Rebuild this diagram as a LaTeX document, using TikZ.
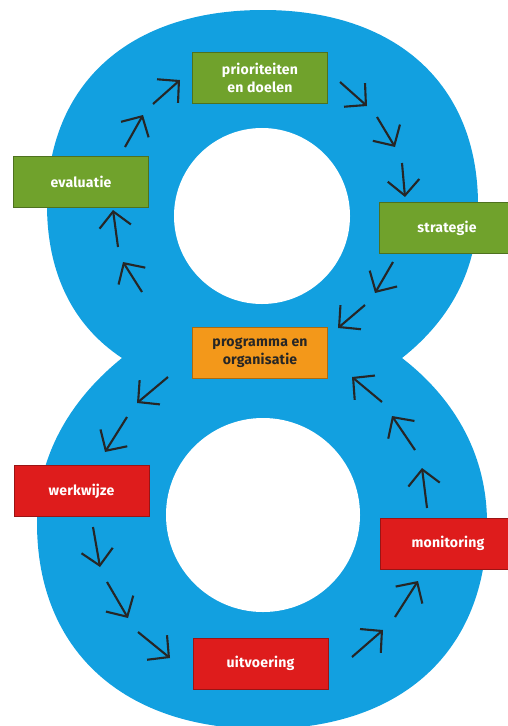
\documentclass[tikz,border=0pt]{standalone}
\usepackage{fontspec}
\setmainfont{Fira Sans}[LetterSpace=1.5]
\usetikzlibrary{arrows.meta}
\definecolor{achtblauw}{RGB}{18,160,224}
\definecolor{groen}{RGB}{112,162,44}
\definecolor{oranje}{RGB}{243,152,26}
\definecolor{rood}{RGB}{222,28,28}
\begin{document}
\begin{tikzpicture}[x=0.03cm,y=-0.03cm,
    vak/.style={draw=#1!70!black, fill=#1, line width=0.8pt, minimum width=4.05cm, minimum height=1.53cm,
      inner sep=0pt, align=center, text=white, font=\bfseries\fontsize{12}{15.5}\selectfont},
    pijl/.style={draw=black!85, line width=1.8pt, -{Straight Barb[length=13pt,width=27pt]}}]
    \useasboundingbox (0,0) rectangle (508,726);

    % de acht: bovenste en onderste ring
    \fill[achtblauw] (47,205) .. controls (47,84) and (129,10) .. (263,10)
      .. controls (396,10) and (478,84) .. (478,205)
      .. controls (478,270) and (450,320) .. (402,358)
      .. controls (370,383) and (320,400) .. (263,400)
      .. controls (206,400) and (156,383) .. (122,358)
      .. controls (72,325) and (47,272) .. (47,205) -- cycle;
    \fill[achtblauw] (122,358) .. controls (160,330) and (210,318) .. (263,318)
      .. controls (316,318) and (366,330) .. (402,358)
      .. controls (450,395) and (487,450) .. (487,523)
      .. controls (487,651) and (402,729) .. (263,729)
      .. controls (124,729) and (37,651) .. (37,523)
      .. controls (37,450) and (76,395) .. (122,358) -- cycle;
    \fill[white] (262,216) circle[radius=2.64cm];
    \fill[white] (263,515) circle[radius=2.91cm];

    \node[vak=groen] (prioriteiten) at (260,77.5) {prioriteiten\\en doelen};
    \node[vak=groen] (evaluatie) at (81,181.5) {evaluatie};
    \node[vak=groen] (strategie) at (447,228) {strategie};
    \node[vak=oranje, text=black!85] (programma) at (260,352.5) {programma en\\organisatie};
    \node[vak=rood] (werkwijze) at (81.5,491) {werkwijze};
    \node[vak=rood] (monitoring) at (448,543.5) {monitoring};
    \node[vak=rood] (uitvoering) at (260.5,663.5) {uitvoering};

    % pijltjes rond de acht
    \foreach \ax/\ay/\bx/\by in {125/147/143/115, 153/104/180/80, 340/82/367/106, 377/117/395/147,
        402/163/405/197, 393/262/375/293, 365/305/338/328, 142/292/123/262, 118/247/113/210,
        168/377/137/403, 127/417/105/452, 93/527/100/567, 107/582/128/618, 138/632/170/658,
        352/657/383/630, 395/617/418/581, 427/508/422/468, 415/450/392/416, 382/402/352/377}
    {
        \coordinate (van) at (\ax,\ay);
        \coordinate (naar) at (\bx,\by);
        \draw[pijl] (van) -- (naar);
    }
\end{tikzpicture}
\end{document}
